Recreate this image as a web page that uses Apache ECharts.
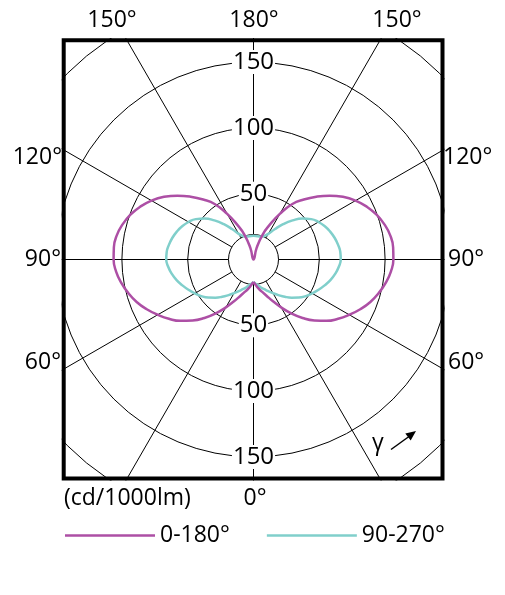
<!DOCTYPE html>
<html><head><meta charset="utf-8">
<script src="https://cdn.jsdelivr.net/npm/echarts@6/dist/echarts.min.js"></script>
<style>html,body{margin:0;padding:0;background:#fff}#c{width:505px;height:595px}</style>
</head><body><div id="c"></div>
<script>
// Angles measured from nadir (0° = down), left half 0..180
const anglesMag = [0,5,10,15,20,25,30,35,40,45,50,55,60,65,70,75,80,85,90,95,100,105,110,115,120,125,130,135,140,145,150,155,160,165,170];
const plane0_180 = [17,19.5,22.5,25.5,29.5,35,42,50,58,65.5,72.5,78.5,84,89.5,94.5,98.5,102,104.8,106.3,106.5,105.5,103,99.5,95,89.5,83,75.5,67.5,59.5,51.5,40,29,20,9,0];
const anglesCyan = [0,5,10,15,20,25,30,35,40,45,50,55,60,65,70,75,80,85,90,95,100,105,110,115,120,125,130,135,140,145,150,155,160,165,170,175,180];
const plane90_270 = [17,18.5,20,22,24,26.5,29.5,33,37,41,45,48.5,51.5,54.5,57.5,60.5,63,65,66.3,66.2,65.2,63.8,62,59.8,57,53.5,48.5,42,35,28,22.5,19.8,18.5,18,18,18,18];
const radiusTicks = [50,100,150];
const seriesNames = ['0-180°','90-270°'];

const K = 1.316, CX = 253.5, CY = 259.5, RMAX = 250;
const FONT = 'Open Sans';

function loop(angles, vals){
  const out = angles.map((a,i)=>[vals[i], a]);
  for (let i = angles.length-1; i >= 0; i--) {
    if (angles[i] === 180) continue;
    out.push([vals[i], 360 - angles[i]]);
  }
  return out;
}

const chart = echarts.init(document.getElementById('c'));
const graphics = [];
// white masks outside the frame
const L=61.7, T=38, R=444.5, B=480.5;
[[0,0,505,T],[0,B,505,595-B],[0,0,L,595],[R,0,505-R,595]].forEach(r=>{
  graphics.push({type:'rect', z:50, shape:{x:r[0],y:r[1],width:r[2],height:r[3]}, style:{fill:'#fff'}});
});
graphics.push({type:'rect', z:51, shape:{x:63.7,y:40.2,width:442.5-63.7,height:478.5-40.2}, style:{fill:null, stroke:'#000', lineWidth:4}});
// radius tick labels on the vertical axis
radiusTicks.forEach(v=>{
  [-1,1].forEach(s=>{
    graphics.push({type:'text', z:52, x:CX, y:CY + s*v*K,
      style:{text:String(v), font:'24px "'+FONT+'"', fill:'#000', align:'center', verticalAlign:'middle',
        backgroundColor:'#fff', padding:[0,1]}});
  });
});
const tx = (t,x,y,align)=>graphics.push({type:'text', z:52, x:x, y:y,
  style:{text:t, font:'23px "'+FONT+'"', fill:'#000', align:align||'center', verticalAlign:'middle'}});
tx('150°',112,20); tx('180°',254,20); tx('150°',397,20);
tx('120°',62,157,'right'); tx('90°',61,259,'right'); tx('60°',61,362,'right');
tx('120°',443,157,'left'); tx('90°',448,259,'left'); tx('60°',448,362,'left');
tx('(cd/1000lm)',64,498,'left'); tx('0°',255,498);
tx('γ',378,443);
graphics.push({type:'line', z:52, shape:{x1:391,y1:449.5,x2:409,y2:436.5}, style:{stroke:'#000', lineWidth:1.5}});
graphics.push({type:'polygon', z:52, shape:{points:[[416,431],[410.7,440.6],[405.3,433.4]]}, style:{fill:'#000'}});

chart.setOption({
  animation:false,
  polar:[
    {center:[CX,CY], radius:[0, RMAX*K]},
    {center:[CX,CY], radius:[25, RMAX*K]},
    {center:[CX,CY], radius:[0, 25]}
  ],
  angleAxis:[
    {polarIndex:0, type:'value', min:0, max:360, startAngle:270, clockwise:true, show:false},
    {polarIndex:1, type:'value', min:0, max:360, interval:30, startAngle:270, clockwise:true,
      axisLine:{show:false}, axisTick:{show:false}, axisLabel:{show:false},
      splitLine:{show:true, lineStyle:{color:'#000', width:1}}},
    {polarIndex:2, type:'value', min:0, max:360, startAngle:270, clockwise:true,
      axisLine:{show:true, lineStyle:{color:'#000', width:1}}, axisTick:{show:false}, axisLabel:{show:false}, splitLine:{show:false}}
  ],
  radiusAxis:[
    {polarIndex:0, type:'value', min:0, max:RMAX, interval:50,
      axisLine:{show:false}, axisTick:{show:false}, axisLabel:{show:false},
      splitLine:{show:true, lineStyle:{color:'#000', width:1}}},
    {polarIndex:1, type:'value', min:0, max:RMAX, show:false},
    {polarIndex:2, type:'value', min:0, max:1, show:false}
  ],
  legend:{z:100, left:65, top:524, padding:0, icon:'rect', itemWidth:90, itemHeight:2.5, itemGap:37,
    textStyle:{fontFamily:FONT, fontSize:23, color:'#000'},
    data:seriesNames},
  series:[
    {name:seriesNames[0], type:'line', coordinateSystem:'polar', polarIndex:0, showSymbol:false, smooth:0.5,
      data:loop(anglesMag, plane0_180), lineStyle:{color:'#ad4fa5', width:2.5}, itemStyle:{color:'#ad4fa5'}, z:3},
    {name:seriesNames[1], type:'line', coordinateSystem:'polar', polarIndex:0, showSymbol:false, smooth:0.5,
      data:loop(anglesCyan, plane90_270), lineStyle:{color:'#80cfcb', width:2.5}, itemStyle:{color:'#80cfcb'}, z:2}
  ],
  graphic:graphics
});
</script></body></html>
